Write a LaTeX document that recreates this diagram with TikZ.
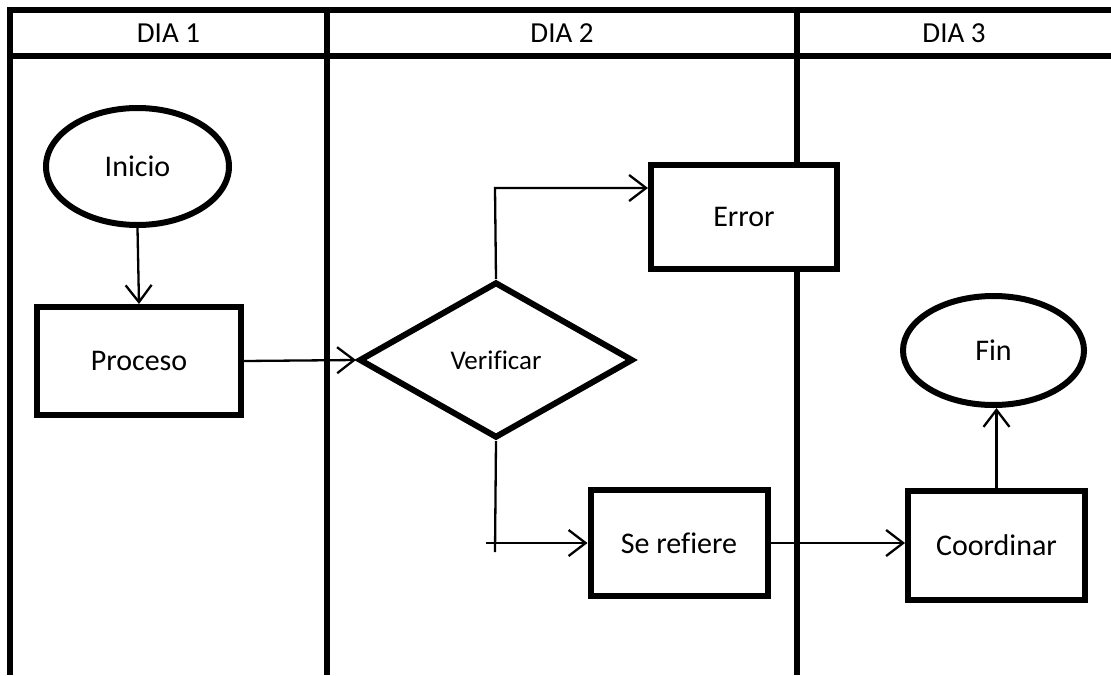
\documentclass[tikz,border=0pt]{standalone}
\usepackage{fontspec}
\setmainfont{Carlito}[Ligatures=NoCommon]
\usetikzlibrary{shapes.geometric,arrows.meta}
\tikzset{
  lane/.style={line width=6pt},
  boxnode/.style={draw, fill=white, line width=6pt, rectangle, inner sep=0pt, font=\fontsize{30}{35}\selectfont},
  ovalnode/.style={draw, fill=white, line width=6pt, ellipse, inner sep=0pt, font=\fontsize{30}{35}\selectfont},
  decnode/.style={draw, fill=white, line width=6pt, diamond, inner sep=0pt, font=\fontsize{27}{32}\selectfont},
  headtext/.style={inner sep=0pt, font=\fontsize{29}{34}\selectfont},
  conn/.style={line width=2.3pt},
  arr/.style={line width=2.3pt, -{Straight Barb[length=17pt,width=26pt,line width=2.3pt]}}
}
\begin{document}
\begin{tikzpicture}[x=1pt,y=-1pt]
\useasboundingbox (0,0) rectangle (1111,675);
% swimlane grid
\coordinate (tl) at (7,10);
\coordinate (tr) at (1111,10);
\coordinate (hl) at (7,56);
\coordinate (hr) at (1111,56);
\coordinate (l1) at (10,7);
\coordinate (l1b) at (10,675);
\coordinate (d1) at (327,7);
\coordinate (d1b) at (327,675);
\coordinate (d2) at (797,7);
\coordinate (d2b) at (797,675);
\draw[lane] (tl) -- (tr);
\draw[lane] (hl) -- (hr);
\draw[lane] (l1) -- (l1b);
\draw[lane] (d1) -- (d1b);
\draw[lane] (d2) -- (d2b);
\node[headtext] (h1) at (168.5,33) {DIA 1};
\node[headtext] (h2) at (562,33) {DIA 2};
\node[headtext] (h3) at (954,33) {DIA 3};
% nodes
\node[ovalnode, minimum width=183pt, minimum height=117pt] (ini) at (137.5,166.5) {Inicio};
\node[boxnode, minimum width=204pt, minimum height=108pt] (pro) at (139,361) {Proceso};
\node[decnode, minimum width=274pt, minimum height=156pt] (ver) at (496,360) {Verificar};
\node[boxnode, minimum width=186pt, minimum height=104pt] (err) at (744,217) {Error};
\node[boxnode, minimum width=177pt, minimum height=106pt] (ser) at (679,543) {Se refiere};
\node[boxnode, minimum width=177pt, minimum height=109pt] (coo) at (996.5,545.5) {Coordinar};
\node[ovalnode, minimum width=181pt, minimum height=109pt] (fin) at (993.5,350.5) {Fin};
% connectors
\coordinate (ec) at (495,188);
\coordinate (vb) at (495,552);
\coordinate (hs) at (486,543);
\draw[arr] (ini.south) -- (pro.north);
\draw[arr] (pro.east) -- (ver.west);
\draw[arr] (ver.north) -- (ec) -- (ec -| err.west);
\draw[conn] (ver.south) -- (vb);
\draw[arr] (hs) -- (hs -| ser.west);
\draw[arr] (ser.east) -- (ser.east -| coo.west);
\draw[arr] (coo.north) -- (coo.north |- fin.south);
\end{tikzpicture}
\end{document}
